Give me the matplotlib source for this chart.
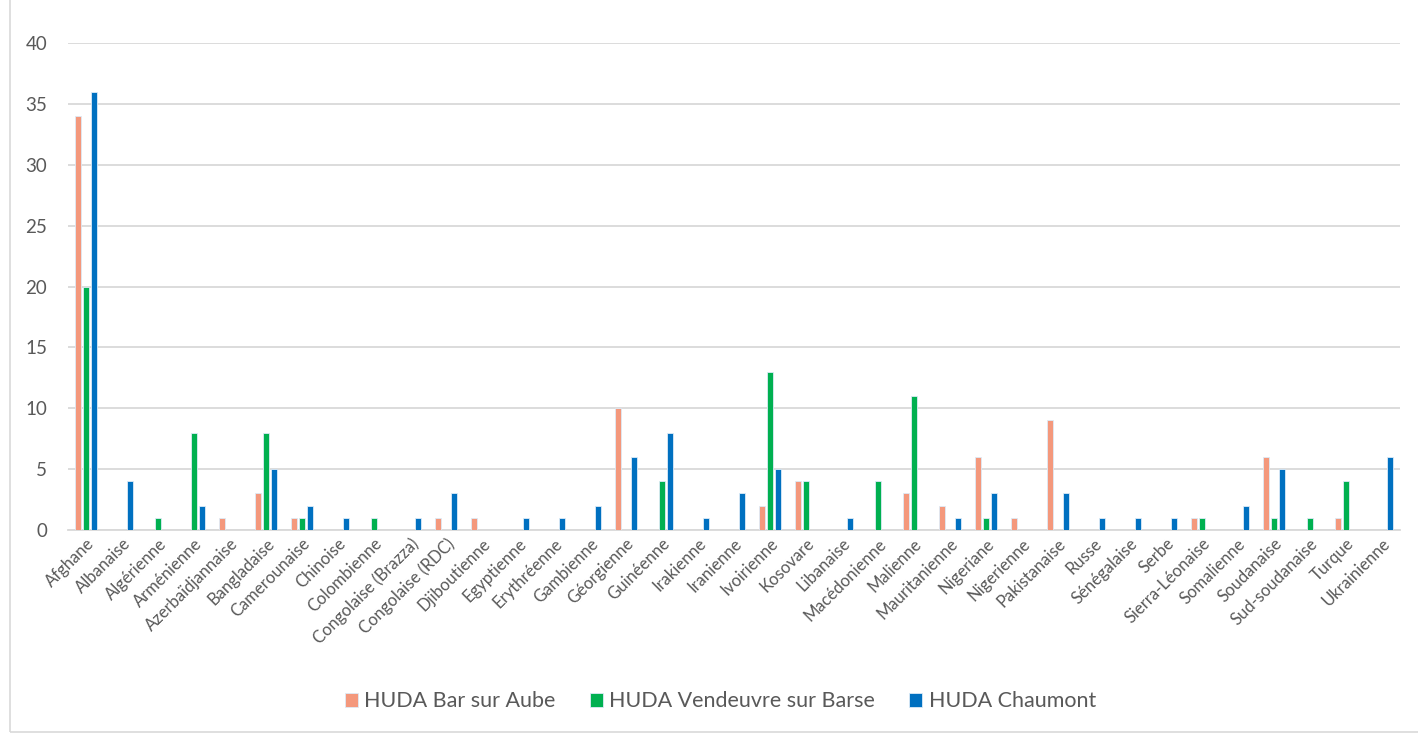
import matplotlib.pyplot as plt
import numpy as np
from matplotlib.patches import Rectangle

categories = ['Afghane', 'Albanaise', 'Algérienne', 'Arménienne', 'Azerbaïdjannaise',
              'Bangladaise', 'Camerounaise', 'Chinoise', 'Colombienne', 'Congolaise (Brazza)',
              'Congolaise (RDC)', 'Djiboutienne', 'Egyptienne', 'Erythréenne', 'Gambienne',
              'Géorgienne', 'Guinéenne', 'Irakienne', 'Iranienne', 'Ivoirienne', 'Kosovare',
              'Libanaise', 'Macédonienne', 'Malienne', 'Mauritanienne', 'Nigeriane',
              'Nigerienne', 'Pakistanaise', 'Russe', 'Sénégalaise', 'Serbe', 'Sierra-Léonaise',
              'Somalienne', 'Soudanaise', 'Sud-soudanaise', 'Turque', 'Ukrainienne']

bar_sur_aube = [34, 0, 0, 0, 1, 3, 1, 0, 0, 0, 1, 1, 0, 0, 0, 10, 0, 0, 0, 2, 4,
                0, 0, 3, 2, 6, 1, 9, 0, 0, 0, 1, 0, 6, 0, 1, 0]
vendeuvre = [20, 0, 1, 8, 0, 8, 1, 0, 1, 0, 0, 0, 0, 0, 0, 0, 4, 0, 0, 13, 4,
             0, 4, 11, 0, 1, 0, 0, 0, 0, 0, 1, 0, 1, 1, 4, 0]
chaumont = [36, 4, 0, 2, 0, 5, 2, 1, 0, 1, 3, 0, 1, 1, 2, 6, 8, 1, 3, 5, 0,
            1, 0, 0, 1, 3, 0, 3, 1, 1, 1, 0, 2, 5, 0, 0, 6]

series = [('HUDA Bar sur Aube', bar_sur_aube, '#F4987C'),
          ('HUDA Vendeuvre sur Barse', vendeuvre, '#00B050'),
          ('HUDA Chaumont', chaumont, '#0070C0')]

plt.rcParams['font.family'] = ['Lato', 'DejaVu Sans']

fig = plt.figure(figsize=(14.18, 7.33), dpi=100)
ax = fig.add_axes([0.048, 0.277, 0.939, 0.664])

x = np.arange(len(categories))
step = 0.222
width = 0.17
for i, (name, vals, col) in enumerate(series):
    ax.bar(x + (i - 1) * step, vals, width, color=col, edgecolor='#DDEBF7',
           linewidth=0.6, label=name, zorder=3)

ax.set_xlim(-0.5, len(categories) - 0.5)
ax.set_ylim(0, 40)
ax.set_yticks(range(0, 41, 5))
ax.grid(axis='y', color='#D9D9D9', linewidth=1.3, zorder=0)
for s in ['top', 'right', 'left']:
    ax.spines[s].set_visible(False)
ax.spines['bottom'].set_color('#D9D9D9')
ax.spines['bottom'].set_linewidth(1.3)
ax.tick_params(axis='y', length=0, labelsize=13.5, labelcolor='#595959', pad=15)
ax.tick_params(axis='x', length=0, labelsize=12, labelcolor='#595959', pad=4)
ax.set_xticks(x)
ax.set_xticklabels(categories, rotation=45, ha='right', rotation_mode='anchor')

leg = fig.legend(loc='center', bbox_to_anchor=(0.508, 0.043), ncol=3, frameon=False,
                 fontsize=15.5, handlelength=0.6, handleheight=0.6, handletextpad=0.3,
                 columnspacing=1.6)
for t in leg.get_texts():
    t.set_color('#595959')

fig.patches.append(Rectangle((10 / 1418, 0.002), 1.2, 1.2, transform=fig.transFigure,
                             fill=False, edgecolor='#D9D9D9', linewidth=1.2))

fig.savefig('out.png', dpi=100)
